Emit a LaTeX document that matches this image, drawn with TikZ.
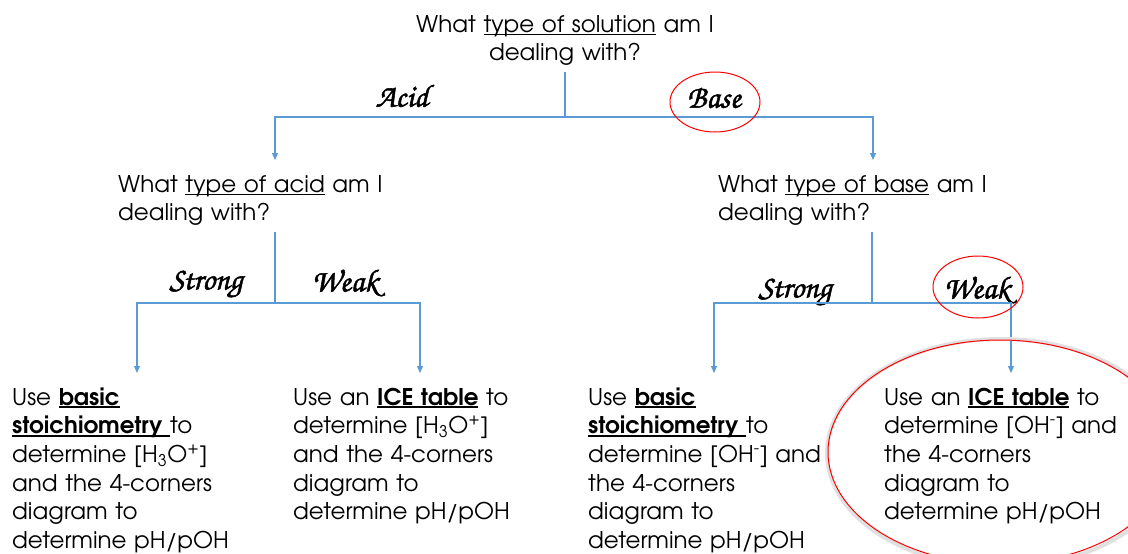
\documentclass[tikz,border=0pt]{standalone}
\usepackage{fontspec}
\setmainfont{texgyreadventor}[Extension=.otf,UprightFont=*-regular,BoldFont=*-bold,ItalicFont=*-italic,BoldItalicFont=*-bolditalic]
\newfontfamily\scriptf{texgyrechorus-mediumitalic.otf}[FakeBold=1.6]
\usetikzlibrary{arrows.meta}
\definecolor{linkblue}{RGB}{91,155,213}
\newcommand\myul[1]{\leavevmode\setbox0=\hbox{#1}\rlap{\rule[-2.6pt]{\wd0}{1.1pt}}\box0\relax}
\newcommand\myulb[1]{\leavevmode\setbox0=\hbox{#1}\rlap{\rule[-3pt]{\wd0}{1.8pt}}\box0\relax}
\begin{document}
\begin{tikzpicture}[x=1pt,y=-1pt,
  conn/.style={draw=linkblue,line width=1.2pt},
  arr/.style={conn,-{Triangle[width=6pt,length=7pt]}},
  txt/.style={font=\fontsize{23}{28.7}\selectfont,inner sep=0pt,align=left,anchor=base west,text width=300pt},
  lbl/.style={font=\scriptf\fontsize{32}{34}\selectfont,inner sep=0pt},
  ring/.style={draw=red,line width=1pt}]
\useasboundingbox (0,0) rectangle (1128,554);
% questions
\node[txt,align=center,anchor=base,text width=360pt] (q0) at (565,32) {What \myul{type of solution} am I\\dealing with?};
\node[txt] (qa) at (118,192) {What \myul{type of acid} am I\\dealing with?};
\node[txt] (qb) at (718,192) {What \myul{type of base} am I\\dealing with?};
% answers
\node[txt] (r1) at (12,405) {Use \myulb{\textbf{basic}}\\\myulb{\textbf{stoichiometry}\ }to\\determine [H\textsubscript{3}O\textsuperscript{+}]\\and the 4-corners\\diagram to\\determine pH/pOH};
\node[txt] (r2) at (293,405) {Use an \myulb{\textbf{ICE table}} to\\determine [H\textsubscript{3}O\textsuperscript{+}]\\and the 4-corners\\diagram to\\determine pH/pOH};
\node[txt] (r3) at (588,405) {Use \myulb{\textbf{basic}}\\\myulb{\textbf{stoichiometry}\ }to\\determine [OH\textsuperscript{-}] and\\the 4-corners\\diagram to\\determine pH/pOH};
\node[txt] (r4) at (884,405) {Use an \myulb{\textbf{ICE table}} to\\determine [OH\textsuperscript{-}] and\\the 4-corners\\diagram to\\determine pH/pOH};
% labels
\node[lbl] (acid) at (402,96) {Acid};
\node[lbl] (base) at (714,98) {Base};
\node[lbl] (sa) at (206,284) {Strong};
\node[lbl] (wa) at (345,283) {Weak};
\node[lbl] (sb) at (795,292) {Strong};
\node[lbl] (wb) at (977,290) {Weak};
% connector points
\coordinate (s0) at (565,72);
\coordinate (j0) at (565,117);
\coordinate (ta) at (275,160);
\coordinate (tb) at (873,160);
\coordinate (sta) at (275,232);
\coordinate (ja) at (275,303);
\coordinate (t1) at (137,373);
\coordinate (t2) at (420,373);
\coordinate (stb) at (872,232);
\coordinate (jb) at (872,303);
\coordinate (t3) at (714,373);
\coordinate (t4) at (1011,373);
\draw[conn] (s0) -- (j0);
\draw[arr] (j0) -| (ta);
\draw[arr] (j0) -| (tb);
\draw[conn] (sta) -- (ja);
\draw[arr] (ja) -| (t1);
\draw[arr] (ja) -| (t2);
\draw[conn] (stb) -- (jb);
\draw[arr] (jb) -| (t3);
\draw[arr] (jb) -| (t4);
% red rings
\draw[ring] (715,102) ellipse [x radius=45pt,y radius=30pt];
\draw[ring] (978,287) ellipse [x radius=45pt,y radius=31pt];
\draw[draw=black!12,line width=4pt] (1001,453) ellipse [x radius=174pt,y radius=114pt];
\draw[ring] (1000,452) ellipse [x radius=172pt,y radius=112pt];
\end{tikzpicture}
\end{document}
